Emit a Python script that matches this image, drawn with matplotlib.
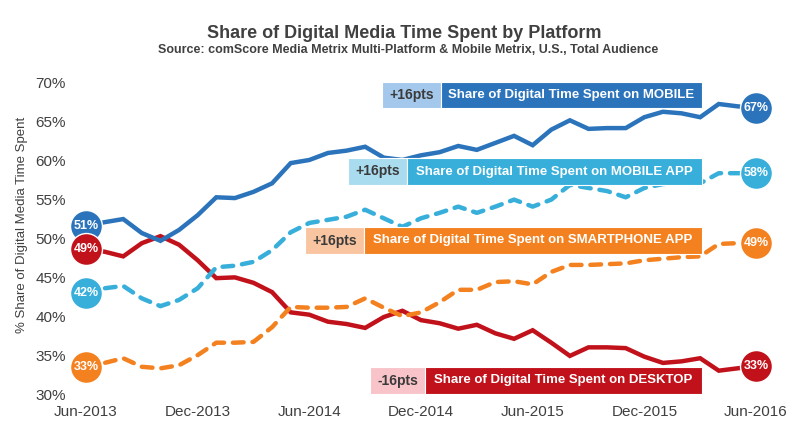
import numpy as np
import matplotlib
matplotlib.use("Agg")
import matplotlib.pyplot as plt
from matplotlib.patches import Rectangle
from matplotlib import font_manager

# =========================================================
# DATA (monthly Jun-2013 .. Jun-2016)
# =========================================================

tick_labels = ["Jun-2013", "Dec-2013", "Jun-2014", "Dec-2014",
               "Jun-2015", "Dec-2015", "Jun-2016"]

mobile = [51.6, 52.1, 52.5, 50.7, 49.7, 51.1, 53.0, 55.3, 55.2, 56.0,
          57.1, 59.7, 60.1, 61.0, 61.3, 61.8, 60.4, 60.1, 60.7, 61.1,
          61.9, 61.4, 62.3, 63.2, 62.0, 64.0, 65.2, 64.1, 64.2, 64.2,
          65.6, 66.3, 66.1, 65.6, 67.3, 67.0, 66.8]

mobile_app = [43.0, 43.6, 43.9, 42.3, 41.3, 42.1, 43.6, 46.3, 46.5, 47.0,
              48.5, 50.8, 52.0, 52.4, 52.8, 53.7, 52.6, 51.5, 52.6, 53.3,
              54.1, 53.3, 54.1, 55.0, 54.1, 55.0, 56.9, 56.5, 56.1, 55.3,
              56.5, 57.0, 57.2, 57.1, 58.4, 58.4, 58.4]

smartphone_app = [33.5, 34.0, 34.6, 33.5, 33.3, 33.7, 35.0, 36.6, 36.6, 36.7,
                  38.6, 41.2, 41.1, 41.1, 41.2, 42.3, 41.1, 40.0, 40.5, 41.8,
                  43.4, 43.4, 44.4, 44.5, 44.1, 45.7, 46.6, 46.6, 46.7, 46.8,
                  47.2, 47.4, 47.6, 47.7, 49.3, 49.4, 49.4]

desktop = [48.6, 48.3, 47.7, 49.4, 50.3, 49.2, 47.2, 44.9, 45.0, 44.3,
           43.1, 40.5, 40.2, 39.3, 39.0, 38.5, 39.9, 40.7, 39.5, 39.1,
           38.4, 38.9, 37.8, 37.1, 38.2, 36.6, 34.9, 36.0, 36.0, 35.9,
           34.8, 34.0, 34.2, 34.6, 33.0, 33.3, 33.6]

start_labels = ["51%", "42%", "33%", "49%"]
end_labels = ["67%", "58%", "49%", "33%"]

change_labels = ["+16pts", "+16pts", "+16pts", "-16pts"]
box_labels = ["Share of Digital Time Spent on MOBILE",
              "Share of Digital Time Spent on MOBILE APP",
              "Share of Digital Time Spent on SMARTPHONE APP",
              "Share of Digital Time Spent on DESKTOP"]

# =========================================================
# STYLE
# =========================================================

names = {f.name for f in font_manager.fontManager.ttflist}
NARROW = "Liberation Sans Narrow" if "Liberation Sans Narrow" in names else "Liberation Sans"
plt.rcParams["font.family"] = ["Liberation Sans", "DejaVu Sans"]

c_dark = ["#2b74bb", "#37afda", "#f4811f", "#c1121c"]
c_light = ["#a4c8ec", "#aadcf0", "#f9c5a1", "#f8c4c9"]
dashed = [False, True, True, False]

W, H = 800, 430
fig = plt.figure(figsize=(8, 4.3), dpi=100)
ax = fig.add_axes([70 / W, 36 / H, 710 / W, 311 / H])

months = np.arange(len(mobile))
series = [mobile, mobile_app, smartphone_app, desktop]

# draw order: desktop, smartphone, mobile app, mobile on top
for i in [3, 2, 1, 0]:
    ls = (0, (2.4, 2.0)) if dashed[i] else "-"
    ax.plot(months, series[i], color=c_dark[i], lw=3.2, ls=ls,
            solid_joinstyle="miter", dash_capstyle="round",
            clip_on=False, zorder=2 + (3 - i) * 0.1)

# end circles
for i in [0, 1, 2, 3]:
    for xi, lab in [(0, start_labels[i]), (months[-1], end_labels[i])]:
        ax.plot(xi, series[i][xi], "o", ms=23, color=c_dark[i], mec="white",
                mew=1.0, clip_on=False, zorder=4 + i * 0.1)
        ax.text(xi, series[i][xi], lab, color="white", fontsize=9,
                fontweight="bold", ha="center", va="center",
                zorder=4.05 + i * 0.1)

ax.set_xlim(-0.86, 37.29)
ax.set_ylim(30, 70)
ax.set_xticks(np.arange(0, 37, 6))
ax.set_xticklabels(tick_labels)
ax.set_yticks(np.arange(30, 71, 5))
ax.set_yticklabels([f"{v}%" for v in range(30, 71, 5)])
ax.tick_params(length=0, labelsize=11, labelcolor="#404040")
ax.tick_params(axis="x", pad=8)
ax.tick_params(axis="y", pad=3)
for s in ax.spines.values():
    s.set_visible(False)

# =========================================================
# LABEL BOXES (pixel layout)
# =========================================================

boxes = [(382, 441, 82, 108), (348, 407, 158, 185),
         (305, 364, 227, 254), (370, 425, 367, 394)]
right_edge = 702

for i, (x0, x1, y0, y1) in enumerate(boxes):
    fy0 = 1 - y1 / H
    fh = (y1 - y0) / H
    fig.patches.append(Rectangle((x0 / W, fy0), (x1 - x0) / W, fh,
                                 transform=fig.transFigure, color=c_light[i],
                                 ec="white", lw=0.8, zorder=10))
    fig.patches.append(Rectangle((x1 / W, fy0), (right_edge - x1) / W, fh,
                                 transform=fig.transFigure, color=c_dark[i],
                                 ec="white", lw=0.8, zorder=10))
    yc = 1 - (y0 + y1) / 2 / H
    fig.text((x0 + x1) / 2 / W, yc, change_labels[i], color="#3a3a3a",
             fontsize=10, fontweight="bold", ha="center", va="center", zorder=11)
    fig.text((x1 + right_edge) / 2 / W, yc, box_labels[i], color="white",
             fontsize=9.5, fontweight="bold", ha="center", va="center", zorder=11)

# =========================================================
# TITLES
# =========================================================

fig.text(0.505, 1 - 33 / H, "Share of Digital Media Time Spent by Platform",
         family=NARROW, fontsize=13, fontweight="bold", color="#404040",
         ha="center", va="center")
fig.text(0.51, 1 - 50 / H,
         "Source: comScore Media Metrix Multi-Platform & Mobile Metrix, U.S., Total Audience",
         family=NARROW, fontsize=9, fontweight="bold", color="#404040",
         ha="center", va="center")
fig.text(22 / W, 1 - 225 / H, "% Share of Digital Media Time Spent",
         family=NARROW, fontsize=9.5, color="#404040", rotation=90,
         ha="center", va="center")

fig.savefig("out.png", dpi=100)
